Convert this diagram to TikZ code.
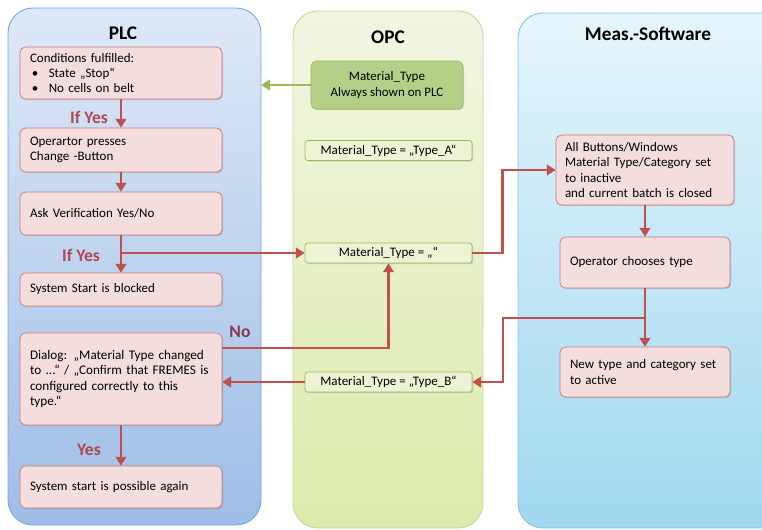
\documentclass[tikz,border=0pt]{standalone}
\usepackage{fontspec}
\setmainfont{Carlito}
\usepackage{xcolor}
\usetikzlibrary{arrows.meta,positioning,shadows}

\definecolor{flowred}{RGB}{192,80,77}
\definecolor{lblred}{RGB}{178,72,80}
\definecolor{nored}{RGB}{128,58,82}
\definecolor{boxpink}{RGB}{244,222,221}
\definecolor{boxline}{RGB}{205,120,118}
\definecolor{flowgreen}{RGB}{155,187,89}
\definecolor{opcfill}{RGB}{238,243,214}
\definecolor{greenbox}{RGB}{180,208,136}

\begin{document}
\begin{tikzpicture}[x=0.02cm,y=-0.02cm,
    lane/.style={rounded corners=0.5cm,line width=0.5pt},
    title/.style={font=\fontsize{11}{13}\selectfont\bfseries},
    plcbox/.style={draw=boxline,fill=boxpink,rounded corners=3pt,align=left,
      text width=3.64cm,inner xsep=0.2cm,inner ysep=1pt,
      font=\fontsize{7.4}{8.6}\selectfont,
      drop shadow={shadow xshift=0.7pt,shadow yshift=-0.7pt,opacity=0.3}},
    typebox/.style={draw=flowgreen,fill=opcfill,rounded corners=1.5pt,
      minimum width=3.34cm,minimum height=0.4cm,inner sep=1pt,
      font=\fontsize{7.4}{8.6}\selectfont,
      drop shadow={shadow xshift=0.7pt,shadow yshift=-0.7pt,opacity=0.3}},
    lbl/.style={text=lblred,font=\fontsize{10}{12}\selectfont\bfseries},
    flow/.style={draw=flowred,line width=1.6pt,-{Triangle[length=5pt,width=6pt]}},
    greenflow/.style={draw=flowgreen,line width=1.6pt,-{Triangle[length=5pt,width=6pt]}}]
    \useasboundingbox (0,0) rectangle (762,529);

    % Lanes
    \path[lane,draw={rgb,255:red,111;green,168;blue,220},
      top color={rgb,255:red,222;green,233;blue,247},
      bottom color={rgb,255:red,158;green,189;blue,230}] (8,8) rectangle (261,525);
    \path[lane,draw={rgb,255:red,195;green,214;blue,155},
      top color={rgb,255:red,242;green,245;blue,226},
      bottom color={rgb,255:red,220;green,235;blue,172}] (293,11) rectangle (483,528);
    \path[lane,draw={rgb,255:red,127;green,198;blue,224},
      top color={rgb,255:red,230;green,245;blue,251},
      bottom color={rgb,255:red,160;green,216;blue,240}] (518,13) rectangle (790,528);
    \coordinate (plcedge) at (261,0);

    \node[title] (plc) at (123,33) {PLC};
    \node[title] (opc) at (388,37) {OPC};
    \node[title] (meas) at (648,34) {Meas.-Software};

    % PLC steps
    \node[plcbox,minimum height=1.04cm] (c1) at (121,73)
      {Conditions fulfilled:\\
       \hspace*{1pt}\textbullet\hspace{6pt}State „Stop“\\
       \hspace*{1pt}\textbullet\hspace{6pt}No cells on belt};
    \node[plcbox,minimum height=0.88cm] (c2) at (121,150)
      {Operartor presses\\Change -Button};
    \node[plcbox,minimum height=0.86cm] (c3) at (121,213.5)
      {Ask Verification Yes/No};
    \node[plcbox,minimum height=0.66cm] (c4) at (121,289.5)
      {System Start is blocked};
    \node[plcbox,minimum height=1.84cm,font=\fontsize{7.5}{8.8}\selectfont] (c5) at (121,379)
      {Dialog: „Material Type changed\\to ...“ / „Confirm that FREMES is\\configured correctly to this\\type.“};
    \node[plcbox,minimum height=0.84cm] (c6) at (121,487)
      {System start is possible again};

    % OPC values
    \node[draw=flowgreen,fill=greenbox,rounded corners=3pt,align=center,
      minimum width=3.04cm,minimum height=0.96cm,
      font=\fontsize{7.4}{8.6}\selectfont,
      drop shadow={shadow xshift=0.7pt,shadow yshift=-0.7pt,opacity=0.3}] (opcA) at (387,85)
      {Material\_Type\\Always shown on PLC};
    \node[typebox] (opcT) at (388.5,150.5) {Material\_Type = „Type\_A“};
    \node[typebox] (opc2) at (388.5,253) {Material\_Type = „“};
    \node[typebox] (opcB) at (388.5,382) {Material\_Type = „Type\_B“};

    % Meas.-Software steps
    \node[plcbox,text width=3.2cm,inner xsep=0.18cm,minimum height=1.4cm] (m1) at (645,170)
      {All Buttons/Windows\\Material Type/Category set\\to inactive\\and current batch is closed};
    \node[plcbox,text width=3.0cm,minimum height=1.02cm] (m2) at (645,262.5)
      {Operator chooses type};
    \node[plcbox,text width=3.0cm,minimum height=1.0cm] (m3) at (645,372)
      {New type and category set\\to active};

    % Labels
    \node[lbl] (ifyes1) at (89,117) {If Yes};
    \node[lbl] (ifyes2) at (81,255) {If Yes};
    \node[lbl] (yes) at (89,450) {Yes};
    \node[lbl,text=nored] (no) at (240,332) {No};

    % Connectors
    \draw[greenflow] (opcA.west) -- (opcA.west -| plcedge);
    \draw[flow] (c1.south) -- (c2.north);
    \draw[flow] (c2.south) -- (c3.north);
    \draw[flow] (c3.south) -- (c4.north);
    \draw[flow] (c5.south) -- (c6.north);
    \coordinate (ifyesturn) at (c3.south |- opc2.west);
    \draw[flow] (ifyesturn) -- (opc2.west);
    \coordinate (noout) at (c5.east |- 0,348);
    \draw[flow] (noout) -| (opc2.south);
    \draw[flow] (opc2.east) -- ++(30,0) |- (m1.west);
    \draw[flow] (m1.south) -- (m2.north);
    \draw[flow] (m2.south) -- (m3.north);
    \coordinate (split) at (m2.south |- 0,318);
    \draw[flow] (split) -- (split -| 503,0) |- (opcB.east);
    \draw[flow] (opcB.west) -- (opcB.west -| c5.east);
\end{tikzpicture}
\end{document}
